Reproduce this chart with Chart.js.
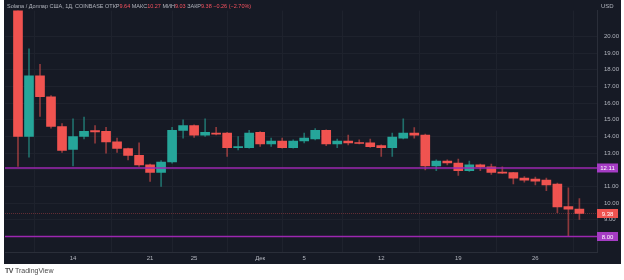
<!DOCTYPE html>
<html>
<head>
<meta charset="utf-8">
<script src="https://cdn.jsdelivr.net/npm/chart.js@4"></script>
<style>
  html, body { margin: 0; padding: 0; background: #fff; }
  #wrap { position: relative; width: 624px; height: 280px; }
  #logo { position: absolute; left: 5px; top: 267px; font: 7px "Liberation Sans", Arial, sans-serif; color: #4a4a4a; }
  #logo b { font-weight: 900; letter-spacing: -0.5px; margin-right: 2px; }
</style>
</head>
<body>
<div id="wrap">
  <canvas id="myChart" width="624" height="280"></canvas>
  <div id="logo"><b>TV</b>TradingView</div>
</div>
<script>
// дневные свечи SOL/USD, 9 ноя - 30 дек
const opens  = [22.9, 14.0, 17.64, 16.38, 14.6, 13.22, 14.0, 14.35, 14.31, 13.68, 13.28, 12.87, 12.3, 11.84, 12.47, 14.37, 14.66, 14.08, 14.2, 14.2, 13.33, 13.33, 14.25, 13.56, 13.73, 13.33, 13.73, 13.85, 14.37, 13.56, 13.73, 13.62, 13.62, 13.45, 13.33, 13.9, 14.2, 14.08, 12.24, 12.53, 12.41, 11.95, 12.3, 12.18, 11.84, 11.84, 11.5, 11.44, 11.38, 11.15, 9.8, 9.64];
const highs  = [23.6, 19.25, 18.33, 16.45, 14.77, 15.06, 15.17, 14.65, 14.55, 13.9, 13.3, 13.62, 12.35, 12.55, 14.55, 15.0, 14.7, 15.06, 14.55, 14.25, 14.0, 14.37, 14.3, 13.9, 13.9, 13.8, 14.2, 14.48, 14.4, 13.85, 14.08, 13.8, 13.85, 13.5, 14.2, 15.06, 14.54, 14.15, 12.6, 12.6, 12.64, 12.53, 12.35, 12.35, 12.18, 11.85, 11.6, 11.56, 11.5, 11.2, 10.92, 10.27];
const lows   = [12.2, 12.76, 15.2, 14.5, 13.05, 12.24, 13.85, 13.6, 13.0, 13.05, 12.6, 12.2, 11.3, 11.0, 12.4, 13.9, 13.95, 14.0, 14.1, 12.8, 13.2, 13.3, 13.4, 13.4, 13.3, 13.3, 13.62, 13.8, 13.45, 13.33, 13.5, 13.55, 13.35, 12.8, 12.8, 13.85, 13.9, 12.0, 11.95, 12.3, 11.67, 11.9, 11.95, 11.72, 11.78, 11.15, 11.26, 11.1, 10.75, 9.43, 8.05, 9.03];
const closes = [14.0, 17.64, 16.38, 14.6, 13.16, 14.0, 14.31, 14.27, 13.68, 13.28, 12.87, 12.3, 11.84, 12.47, 14.37, 14.66, 14.08, 14.25, 14.14, 13.33, 13.4, 14.2, 13.56, 13.73, 13.33, 13.73, 13.9, 14.37, 13.56, 13.73, 13.62, 13.58, 13.39, 13.33, 13.97, 14.2, 14.08, 12.24, 12.53, 12.41, 11.95, 12.3, 12.18, 11.84, 11.8, 11.5, 11.38, 11.32, 11.1, 9.77, 9.64, 9.38];

const tickDays   = [5, 12, 16, 22, 26, 33, 40, 47];
const tickLabels = ["14", "21", "25", "Дек", "5", "12", "19", "26"];
const priceTicks = [8, 9, 10, 11, 12, 13, 14, 15, 16, 17, 18, 19, 20];

const levelLines = [12.11, 8.00];
const lastPrice = 9.38;

const legendParts = [
  ["Solana / Доллар США, 1Д, COINBASE ", "#b2b5be"],
  ["ОТКР", "#b2b5be"], ["9.64 ", "#f7525f"],
  ["МАКС", "#b2b5be"], ["10.27 ", "#f7525f"],
  ["МИН", "#b2b5be"], ["9.03 ", "#f7525f"],
  ["ЗАКР", "#b2b5be"], ["9.38 ", "#f7525f"],
  ["−0.26 (−2.70%)", "#f7525f"],
];

const UP = "#26a69a", DOWN = "#f05350";
const PURPLE = "#9c27b0";
const FONT = '"Liberation Sans", Arial, sans-serif';

const isUp = opens.map((o, i) => closes[i] >= o);

const grapharea = document.getElementById("myChart");

const background = {
  id: "background",
  beforeDraw(chart) {
    const ctx = chart.ctx;
    ctx.save();
    ctx.fillStyle = "#161a25";
    ctx.fillRect(4, 0, 617, 264);
    ctx.restore();
  },
};

const overlay = {
  id: "overlay",
  afterDraw(chart) {
    const ctx = chart.ctx;
    const area = chart.chartArea;
    const y = chart.scales.y;
    ctx.save();

    // пунктир текущей цены
    const py = Math.round(y.getPixelForValue(lastPrice)) + 0.5;
    ctx.strokeStyle = "rgba(240,83,80,0.35)";
    ctx.lineWidth = 1;
    ctx.setLineDash([1, 1]);
    ctx.beginPath();
    ctx.moveTo(area.left, py);
    ctx.lineTo(area.right, py);
    ctx.stroke();
    ctx.setLineDash([]);

    // горизонтальные уровни
    ctx.strokeStyle = PURPLE;
    ctx.lineWidth = 1.5;
    levelLines.forEach((v) => {
      const ly = y.getPixelForValue(v);
      ctx.beginPath();
      ctx.moveTo(area.left, ly);
      ctx.lineTo(area.right, ly);
      ctx.stroke();
    });

    // плашки на шкале
    const boxes = levelLines.map((v) => [v, PURPLE]).concat([[lastPrice, DOWN]]);
    ctx.font = "6px " + FONT;
    ctx.textAlign = "center";
    ctx.textBaseline = "middle";
    boxes.forEach(([v, c]) => {
      const by = y.getPixelForValue(v);
      ctx.fillStyle = c === PURPLE ? "#a53cc4" : c;
      ctx.fillRect(area.right, by - 4.5, 21, 9);
      ctx.fillStyle = "#ffffff";
      ctx.fillText(v.toFixed(2), area.right + 10.5, by + 0.5);
    });

    ctx.fillStyle = "#b2b5be";
    ctx.textAlign = "left";
    ctx.fillText("USD", area.right + 4, 6);

    // строка легенды
    ctx.font = "5.5px " + FONT;
    let x = 7;
    legendParts.forEach(([t, c]) => {
      ctx.fillStyle = c;
      ctx.fillText(t, x, 6);
      x += ctx.measureText(t).width;
    });
    ctx.restore();
  },
};

const data = {
  datasets: [
    {
      label: "wicks",
      data: lows.map((l, i) => ({ x: i, y: [l, highs[i]] })),
      backgroundColor: isUp.map((u) => (u ? "rgba(38,166,154,0.6)" : "rgba(240,83,80,0.55)")),
      barThickness: 1,
      minBarLength: 1,
      borderWidth: 0,
    },
    {
      label: "bodies",
      data: opens.map((o, i) => ({ x: i, y: [o, closes[i]] })),
      backgroundColor: isUp.map((u) => (u ? UP : DOWN)),
      barThickness: 9,
      minBarLength: 1,
      borderWidth: 0,
    },
  ],
};

const config = {
  type: "bar",
  data: data,
  plugins: [background, overlay],
  options: {
    responsive: false,
    animation: false,
    grouped: false,
    layout: { padding: { left: 5, right: 3, top: 0, bottom: 16 } },
    plugins: { legend: { display: false }, tooltip: { enabled: false } },
    scales: {
      x: {
        type: "linear",
        min: -1.18,
        max: 52.6,
        offset: false,
        afterBuildTicks: (s) => { s.ticks = tickDays.map((v) => ({ value: v })); },
        afterFit: (s) => { s.height = 12; },
        grid: { color: "#1e222d", drawTicks: false },
        border: { color: "#2a2e39" },
        ticks: {
          padding: 3,
          maxRotation: 0,
          autoSkip: false,
          color: "#b2b5be",
          font: { size: 6, family: FONT },
          callback: (v) => tickLabels[tickDays.indexOf(v)],
        },
      },
      y: {
        position: "right",
        min: 7.07,
        max: 21.55,
        afterBuildTicks: (s) => { s.ticks = priceTicks.map((v) => ({ value: v })); },
        afterFit: (s) => { s.width = 24; },
        grid: { color: "#1e222d", drawTicks: false },
        border: { color: "#2a2e39" },
        ticks: {
          padding: 7,
          color: "#b2b5be",
          font: { size: 6, family: FONT },
          callback: (v) => (v === 12 || v === 8 ? "" : v.toFixed(2)),
        },
      },
    },
  },
};

const myChart = new Chart(grapharea, config);
</script>
</body>
</html>
